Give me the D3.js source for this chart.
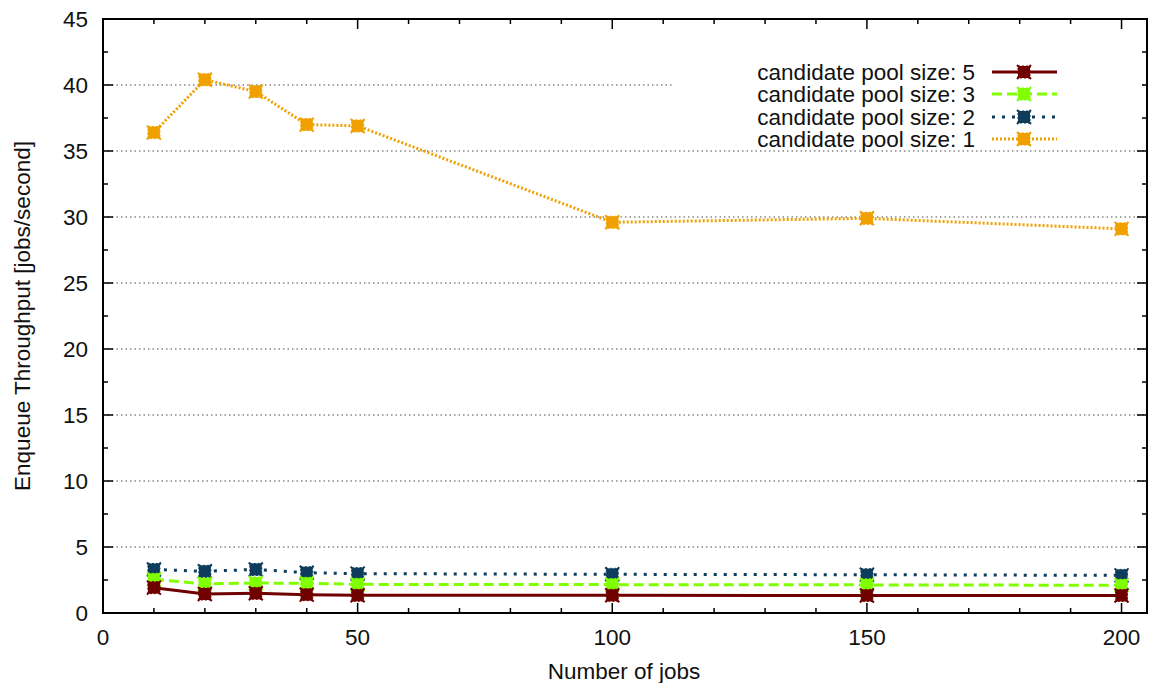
<!DOCTYPE html>
<html>
<head>
<meta charset="utf-8">
<title>Enqueue Throughput</title>
<script src="https://d3js.org/d3.v7.min.js"></script>
<style>
  body { margin: 0; background: #fff; }
  text { font-family: "Liberation Sans", Arial, sans-serif; fill: #111; }
  .grid { stroke: #888; stroke-width: 1.3; stroke-dasharray: 1.5,3; }
  .frame { fill: none; stroke: #000; stroke-width: 2; }
</style>
</head>
<body>
<script>
// data
var jobs = [10, 20, 30, 40, 50, 100, 150, 200];
var pool5 = [1.92, 1.44, 1.49, 1.39, 1.34, 1.34, 1.33, 1.33];
var pool3 = [2.55, 2.2, 2.27, 2.25, 2.17, 2.15, 2.13, 2.1];
var pool2 = [3.3, 3.16, 3.3, 3.05, 2.98, 2.93, 2.9, 2.85];
var pool1 = [36.4, 40.4, 39.5, 37.0, 36.9, 29.6, 29.9, 29.1];
var seriesNames = ["candidate pool size: 5", "candidate pool size: 3",
    "candidate pool size: 2", "candidate pool size: 1"];
var xTicks = [0, 50, 100, 150, 200];
var yTicks = [0, 5, 10, 15, 20, 25, 30, 35, 40, 45];

var w = 1150, h = 683;
var pLeft = 103, pRight = 1147, pTop = 19, pBottom = 613;
var fs = 22.5;

var svg = d3.select("body").append("svg")
    .attr("width", w)
    .attr("height", h);

var x = d3.scaleLinear().domain([0, 205]).range([pLeft, pRight]);
var y = d3.scaleLinear().domain([0, 45]).range([pBottom, pTop]);

var styles = [
    { color: "#700000", dash: null, width: 3 },
    { color: "#80ff00", dash: "10,5", width: 3 },
    { color: "#0f3d5c", dash: "3,7", width: 3 },
    { color: "#f0a000", dash: "2,2", width: 3 }
];
var series = [pool5, pool3, pool2, pool1];

// horizontal grid lines
svg.append("g").selectAll("line")
    .data(yTicks.filter(function(d) { return d > 0 && d < 45; }))
    .enter().append("line")
    .attr("class", "grid")
    .attr("x1", pLeft).attr("x2", pRight)
    .attr("y1", function(d) { return y(d); })
    .attr("y2", function(d) { return y(d); });

// ticks on all four sides, inward
var ticks = svg.append("g").attr("stroke", "#000").attr("stroke-width", 1.5);
d3.range(0, 45.01, 2.5).forEach(function(v) {
    var len = (v % 5 === 0) ? 10 : 5;
    ticks.append("line").attr("x1", pLeft).attr("x2", pLeft + len).attr("y1", y(v)).attr("y2", y(v));
    ticks.append("line").attr("x1", pRight).attr("x2", pRight - len).attr("y1", y(v)).attr("y2", y(v));
});
d3.range(0, 200.01, 10).forEach(function(v) {
    var len = (v % 50 === 0) ? 10 : 5;
    ticks.append("line").attr("x1", x(v)).attr("x2", x(v)).attr("y1", pBottom).attr("y2", pBottom - len);
    ticks.append("line").attr("x1", x(v)).attr("x2", x(v)).attr("y1", pTop).attr("y2", pTop + len);
});

// tick labels
svg.append("g").selectAll("text")
    .data(yTicks).enter().append("text")
    .attr("x", pLeft - 15)
    .attr("y", function(d) { return y(d); })
    .attr("dy", "0.36em")
    .attr("text-anchor", "end")
    .attr("font-size", fs)
    .text(function(d) { return d; });

svg.append("g").selectAll("text")
    .data(xTicks).enter().append("text")
    .attr("x", function(d) { return x(d); })
    .attr("y", 645)
    .attr("text-anchor", "middle")
    .attr("font-size", fs)
    .text(function(d) { return d; });

// axis titles
svg.append("text")
    .attr("x", 624).attr("y", 679)
    .attr("text-anchor", "middle")
    .attr("font-size", fs)
    .text("Number of jobs");

svg.append("text")
    .attr("transform", "translate(30," + ((pTop + pBottom) / 2) + ") rotate(-90)")
    .attr("text-anchor", "middle")
    .attr("font-size", fs)
    .text("Enqueue Throughput [jobs/second]");

// legend background hides the grid behind it
svg.append("rect")
    .attr("x", 672).attr("y", 58)
    .attr("width", 470).attr("height", 90)
    .attr("fill", "#fff");

var line = d3.line()
    .x(function(d, i) { return x(jobs[i]); })
    .y(function(d) { return y(d); });

function marker(g, cx, cy, color) {
    g.append("rect")
        .attr("x", cx - 6).attr("y", cy - 6)
        .attr("width", 12).attr("height", 12)
        .attr("fill", color)
        .attr("stroke", color)
        .attr("stroke-width", 1)
        .attr("stroke-dasharray", "2,2");
    g.append("path")
        .attr("d", "M" + (cx - 7) + "," + (cy - 7) + "L" + (cx + 7) + "," + (cy + 7) +
            "M" + (cx - 7) + "," + (cy + 7) + "L" + (cx + 7) + "," + (cy - 7))
        .attr("stroke", color)
        .attr("stroke-width", 2);
}

// draw in reverse so pool 5 ends on top
for (var s = series.length - 1; s >= 0; s--) {
    var st = styles[s];
    var g = svg.append("g");
    g.append("path")
        .datum(series[s])
        .attr("d", line)
        .attr("fill", "none")
        .attr("stroke", st.color)
        .attr("stroke-width", st.width)
        .attr("stroke-dasharray", st.dash);
    series[s].forEach(function(v, i) {
        marker(g, x(jobs[i]), y(v), st.color);
    });
}

// legend
var legendY = [72, 94, 117, 139];
seriesNames.forEach(function(name, i) {
    var st = styles[i];
    svg.append("text")
        .attr("x", 975).attr("y", legendY[i])
        .attr("dy", "0.36em")
        .attr("text-anchor", "end")
        .attr("font-size", fs)
        .text(name);
    svg.append("line")
        .attr("x1", 992).attr("x2", 1057)
        .attr("y1", legendY[i]).attr("y2", legendY[i])
        .attr("stroke", st.color)
        .attr("stroke-width", st.width)
        .attr("stroke-dasharray", st.dash);
    marker(svg, 1024, legendY[i], st.color);
});

// frame
svg.append("rect")
    .attr("class", "frame")
    .attr("x", pLeft).attr("y", pTop)
    .attr("width", pRight - pLeft).attr("height", pBottom - pTop);
</script>
</body>
</html>
